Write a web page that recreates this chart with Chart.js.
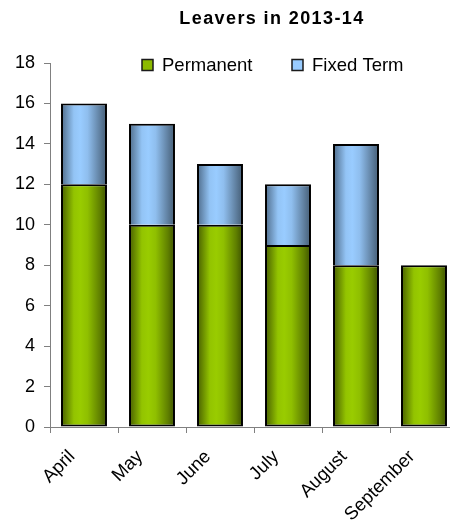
<!DOCTYPE html>
<html>
<head>
<meta charset="utf-8">
<script src="https://cdn.jsdelivr.net/npm/chart.js@4.4.1/dist/chart.umd.min.js"></script>
<style>
  html, body { margin: 0; padding: 0; background: #fff; overflow: hidden; }
  #wrap { width: 460px; height: 526px; }
</style>
</head>
<body>
<div id="wrap"><canvas id="c" width="460" height="526"></canvas></div>
<script>
// Leavers per month, split by contract type
const months = ['April', 'May', 'June', 'July', 'August', 'September'];
const permanent = [12, 10, 10, 9, 8, 8];
const fixedTerm = [4, 5, 3, 3, 6, 0];
const yTicks = [0, 2, 4, 6, 8, 10, 12, 14, 16, 18];

const FONT = '"Liberation Sans", Arial, sans-serif';
const BAR_PCT = 0.676;

const greenStops = [[0, '#465c00'], [0.28, '#93c400'], [0.42, '#99cc00'], [0.58, '#8fbf00'], [0.85, '#5f7f00'], [1, '#3c5000']];
const blueStops = [[0, '#4d6a88'], [0.28, '#93c4f5'], [0.42, '#99ccff'], [0.58, '#8fbeee'], [0.85, '#5f7f9f'], [1, '#435b73']];

// horizontal shading across each bar, like a lit cylinder
function barShade(stops, flat) {
  return (c) => {
    const chart = c.chart;
    const xs = chart.scales && chart.scales.x;
    if (!xs || c.type !== 'data' || !chart.chartArea) return flat;
    const center = xs.getPixelForValue(c.dataIndex);
    const half = (xs.width / months.length) * BAR_PCT / 2;
    const g = chart.ctx.createLinearGradient(center - half, 0, center + half, 0);
    stops.forEach(([o, col]) => g.addColorStop(o, col));
    return g;
  };
}

const headerPlugin = {
  id: 'header',
  afterDraw(chart) {
    const ctx = chart.ctx;
    ctx.save();
    // title
    ctx.fillStyle = '#000';
    ctx.font = 'bold 18px ' + FONT;
    ctx.textAlign = 'center';
    ctx.textBaseline = 'middle';
    if ('letterSpacing' in ctx) ctx.letterSpacing = '1.4px';
    ctx.fillText('Leavers in 2013-14', 272, 19);
    if ('letterSpacing' in ctx) ctx.letterSpacing = '0px';
    // legend
    const items = [
      { text: 'Permanent', fill: '#8cba00', x: 142 },
      { text: 'Fixed Term', fill: '#99ccff', x: 292 }
    ];
    const yMid = chart.chartArea.top + 1.5;
    ctx.font = '18.5px ' + FONT;
    ctx.textAlign = 'left';
    items.forEach(it => {
      ctx.fillStyle = it.fill;
      ctx.fillRect(it.x, yMid - 5, 11, 11);
      ctx.strokeStyle = '#1a1a1a';
      ctx.lineWidth = 1.5;
      ctx.strokeRect(it.x, yMid - 5, 11, 11);
      ctx.fillStyle = '#000';
      ctx.fillText(it.text, it.x + 20, yMid + 1);
    });
    ctx.restore();
  }
};

new Chart(document.getElementById('c'), {
  type: 'bar',
  data: {
    labels: months,
    datasets: [
      {
        label: 'Permanent',
        data: permanent,
        backgroundColor: barShade(greenStops, '#99cc00'),
        borderColor: '#000',
        borderWidth: 2,
        borderSkipped: false,
        categoryPercentage: 1,
        barPercentage: BAR_PCT
      },
      {
        label: 'Fixed Term',
        data: fixedTerm,
        backgroundColor: barShade(blueStops, '#99ccff'),
        borderColor: '#000',
        borderWidth: 2,
        borderSkipped: 'bottom',
        categoryPercentage: 1,
        barPercentage: BAR_PCT
      }
    ]
  },
  options: {
    responsive: false,
    animation: false,
    layout: { padding: { top: 63, right: 2, left: 0, bottom: 0 } },
    plugins: {
      legend: { display: false },
      title: { display: false },
      tooltip: { enabled: false }
    },
    scales: {
      x: {
        stacked: true,
        grid: { drawOnChartArea: false, drawTicks: true, tickLength: 6, color: '#808080', offset: true },
        border: { display: true, color: '#808080', width: 1 },
        ticks: {
          color: '#000',
          font: { family: FONT, size: 18.5 },
          minRotation: 45,
          maxRotation: 45,
          padding: 13,
          labelOffset: -12
        },
        afterFit(s) { s.height = 99; }
      },
      y: {
        stacked: true,
        min: 0,
        max: 18,
        afterBuildTicks(s) { s.ticks = yTicks.map(v => ({ value: v })); },
        grid: { drawOnChartArea: false, drawTicks: true, tickLength: 6, color: '#808080' },
        border: { display: true, color: '#808080', width: 1 },
        ticks: {
          color: '#000',
          font: { family: FONT, size: 18 },
          padding: 9
        },
        afterFit(s) { s.width = 50; }
      }
    }
  },
  plugins: [headerPlugin]
});
</script>
</body>
</html>
